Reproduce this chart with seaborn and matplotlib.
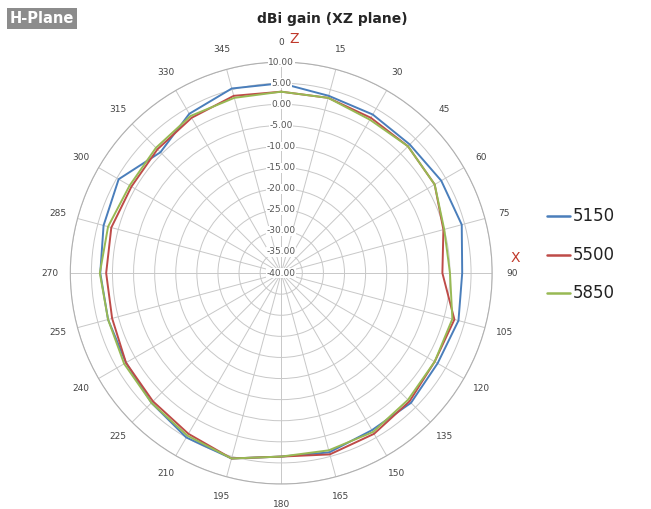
import numpy as np
import pandas as pd
import matplotlib
matplotlib.use("Agg")
import matplotlib.pyplot as plt
import seaborn as sns

angles = list(range(0, 360, 15))
s5150 = [5, 3.5, 3.4, 3.1, 3.8, 4.3, 2.9, 3.5, 2.8, 3.5, 3, 4, 3.5, 5.5, 5, 3.5, 2.5, 2.5, 2.9, 3.6, 4.5, 0.5, 3.6, 5.3]
s5500 = [3, 3, 2.5, 2.5, 2, -0.2, -1.8, 2.5, 2, 3, 4, 4.5, 3.5, 5.5, 4, 3, 2.5, 1.5, 1.5, 1.7, 1, 1.5, 2.5, 3.5]
s5850 = [3, 3, 2, 2.5, 2, 0, 0, 2, 2, 2.5, 3.5, 3.5, 3.5, 5.5, 4.5, 3.5, 3, 2.5, 3, 2.5, 1.5, 2, 3, 3]
series = {"5150": s5150, "5500": s5500, "5850": s5850}
colors = {"5150": "#4a7ebb", "5500": "#be4b48", "5850": "#98b954"}
rticks = [-40, -35, -30, -25, -20, -15, -10, -5, 0, 5, 10]

sns.set_style("white")
fig = plt.figure(figsize=(6.51, 5.09), dpi=100)
ax = fig.add_axes([0.108, 0.049, 0.648, 0.829], projection="polar")
ax.set_theta_zero_location("N")
ax.set_theta_direction(-1)

rows = []
for name, vals in series.items():
    for a, v in zip(angles + [360], vals + [vals[0]]):
        rows.append({"theta": np.deg2rad(a), "gain": v, "freq": name})
df = pd.DataFrame(rows)
sns.lineplot(data=df, x="theta", y="gain", hue="freq", palette=colors, sort=False,
             estimator=None, units="freq", ax=ax, lw=1.4, legend=False)

ax.set_ylim(-40, 10)
ax.set_yticks(rticks)
ax.set_yticklabels([])
for r in rticks:
    ax.text(0, r, f"{r:.2f}", ha="center", va="center", fontsize=6.5, color="#555555",
            bbox=dict(facecolor="white", edgecolor="none", pad=0.3))
ax.set_xticks(np.deg2rad(angles))
ax.set_xticklabels([str(a) for a in angles], fontsize=6.5, color="#444444")
ax.tick_params(axis="x", pad=4)
ax.grid(True, color="#c8c8c8", lw=0.7)
ax.spines["polar"].set_color("#b0b0b0")
ax.set_xlabel(""); ax.set_ylabel("")

fig.text(0.51, 0.955, "dBi gain (XZ plane)", ha="center", fontsize=10, fontweight="bold")
fig.text(0.445, 0.915, "Z", color="#c0392b", fontsize=10)
fig.text(0.785, 0.485, "X", color="#c0392b", fontsize=10)
fig.text(0.015, 0.955, "H-Plane", color="white", fontsize=10.5, fontweight="bold",
         bbox=dict(facecolor="#8c8c8c", edgecolor="none", pad=2))

for i, (name, c) in enumerate(colors.items()):
    y = 0.575 - i * 0.075
    fig.add_artist(plt.Line2D([0.84, 0.875], [y, y], color=c, lw=1.8))
    fig.text(0.88, y, name, va="center", fontsize=12, color="#222222")

fig.savefig("out.png", dpi=100)
